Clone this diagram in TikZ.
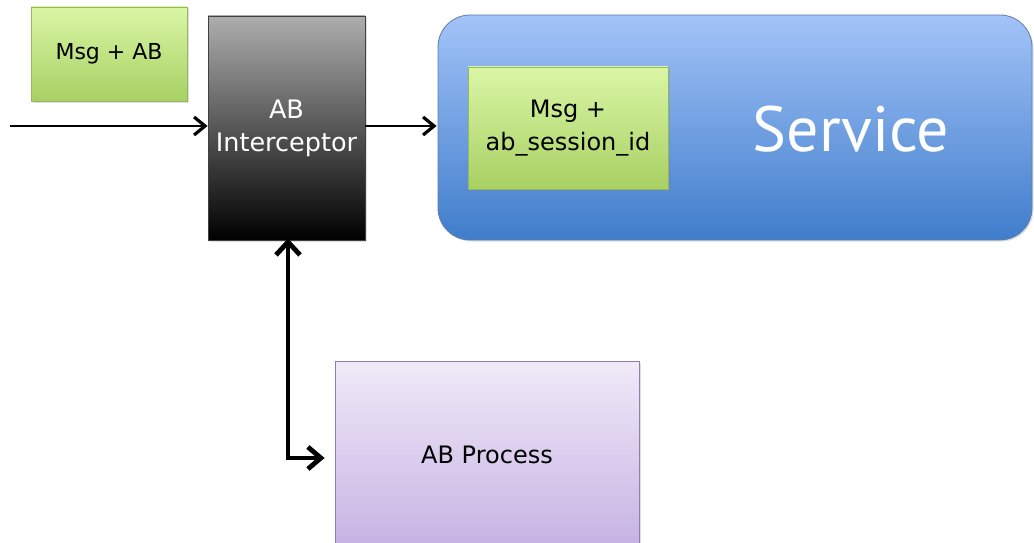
\documentclass[tikz,border=0pt]{standalone}
\usepackage{fontspec}
\setmainfont{DejaVu Sans}
\newfontfamily\titlefont{PT Sans}
\usetikzlibrary{arrows.meta,shadows}

\definecolor{greentop}{HTML}{DAF6A6}
\definecolor{greenbot}{HTML}{A8D063}
\definecolor{greenedge}{HTML}{94B860}
\definecolor{bluetop}{HTML}{A3C3F8}
\definecolor{bluebot}{HTML}{3F7DCB}
\definecolor{blueedge}{HTML}{5E7EA8}
\definecolor{violettop}{HTML}{F0EAF8}
\definecolor{violetbot}{HTML}{C6B2E3}
\definecolor{violetedge}{HTML}{8E80AA}

\tikzset{
  box/.style={rectangle, inner sep=0pt, align=center, line width=0.8pt,
    font=\fontsize{24}{33}\selectfont,
    drop shadow={opacity=0.25, shadow xshift=1.5pt, shadow yshift=-1.5pt}},
  greenbox/.style={box, draw=greenedge, top color=greentop, bottom color=greenbot},
  darkbox/.style={box, draw=black!75, top color=black!32, bottom color=black,
    text=white},
  servicebox/.style={box, draw=blueedge, top color=bluetop, bottom color=bluebot,
    rounded corners=32pt},
  processbox/.style={box, draw=violetedge, top color=violettop, bottom color=violetbot},
  flow/.style={line width=2.8pt, -{Straight Barb[length=11pt,width=18pt,line width=3.2pt]}},
  linkflow/.style={line width=4.5pt,
    {Straight Barb[length=13pt,width=24pt,line width=4.8pt]}-{Straight Barb[length=13pt,width=22pt,line width=4.8pt]}}
}

\begin{document}
\begin{tikzpicture}[x=1pt,y=-1pt]
  \useasboundingbox (0,0) rectangle (1034,543);
  \clip (0,0) rectangle (1034,543);

  % message entering the interceptor
  \node[greenbox, font=\fontsize{22}{30}\selectfont, minimum width=156pt, minimum height=94pt]
    (msg) at (109,54) {Msg + AB};

  % interceptor
  \node[darkbox, font=\fontsize{25.5}{33}\selectfont, minimum width=157pt, minimum height=224pt]
    (icpt) at (286.5,128) {AB\\Interceptor};

  % service with the rewritten message
  \node[servicebox, minimum width=594pt, minimum height=225pt] (svc) at (735,127.5) {};
  \node[greenbox, drop shadow={opacity=0}, minimum width=200pt, minimum height=122pt] (inner)
    at (568,128) {Msg +\\ab\_session\_id};
  \node[text=white, inner sep=0pt, font=\titlefont\fontsize{64}{70}\selectfont] (svctext)
    at (851,129) {Service};

  % AB process
  \node[processbox, minimum width=304pt, minimum height=188pt] (proc) at (487,455)
    {AB Process};

  % connectors
  \coordinate (src) at (10,126);
  \coordinate (elbow) at (288,458);
  \draw[flow] (src) -- (src -| icpt.west);
  \draw[flow] (icpt.east |- src) -- ([xshift=-1pt]svc.west |- src);
  \draw[linkflow, shorten >=10pt, shorten <=-2pt] (elbow |- icpt.south) -- (elbow)
    -- (proc.west |- elbow);
\end{tikzpicture}
\end{document}
